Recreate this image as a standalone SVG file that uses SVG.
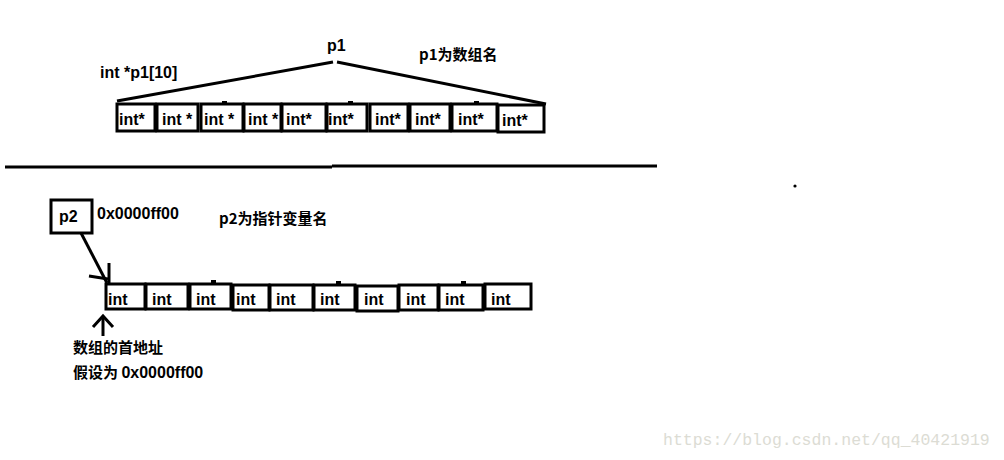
<svg xmlns="http://www.w3.org/2000/svg" width="1004" height="460" viewBox="0 0 1004 460">
<style>
.t{font-family:"Liberation Sans","Noto Sans CJK SC",sans-serif;font-weight:bold;font-size:16px;fill:#000}
.c{font-family:"Noto Sans CJK SC","Liberation Sans",sans-serif;font-weight:bold;font-size:15px;fill:#000}
.b{fill:#fff;stroke:#000;stroke-width:3}
.ln{fill:none;stroke:#000;stroke-width:3;stroke-linecap:butt}
.wm{font-family:"Liberation Mono",monospace;font-size:16.5px;fill:#dcdcd4}
</style>
<rect width="1004" height="460" fill="#fff"/>
<g id="labels-top">
<text class="t" x="327" y="51">p1</text>
<text class="t" x="100" y="78">int *p1[10]</text>
<text class="c" x="419" y="60">p1为数组名</text>
</g>
<g id="array-p1">
<rect class="b" x="117" y="104" width="38" height="27"/><text class="t" x="119" y="125">int*</text>
<rect class="b" x="157" y="104" width="41" height="27"/><text class="t" x="162" y="125">int *</text>
<rect class="b" x="201" y="104" width="42" height="27"/><text class="t" x="204" y="125">int *</text>
<rect class="b" x="244" y="104" width="37" height="27"/><text class="t" x="248" y="125">int *</text>
<rect class="b" x="282" y="104" width="44" height="27"/><text class="t" x="286" y="125">int*</text>
<rect class="b" x="327" y="104" width="40" height="27"/><text class="t" x="328" y="125">int*</text>
<rect class="b" x="370" y="104" width="38" height="27"/><text class="t" x="375" y="125">int*</text>
<rect class="b" x="410" y="104" width="40" height="27"/><text class="t" x="415" y="125">int*</text>
<rect class="b" x="452" y="104" width="45" height="27"/><text class="t" x="458" y="125">int*</text>
<rect class="b" x="498" y="105" width="46" height="27"/><text class="t" x="502" y="126">int*</text>
<rect x="222" y="101" width="5" height="4"/>
<rect x="348" y="101" width="5" height="4"/>
<rect x="474" y="101" width="5" height="4"/>
</g>
<g id="connectors">
<path class="ln" d="M333 62 L117 101"/>
<path class="ln" d="M337 62 L546 104"/>
<path class="ln" d="M5 167 L332 167"/>
<path class="ln" d="M332 166 L657 166"/>
<path class="ln" d="M80 231 L107 283"/>
<path class="ln" d="M109 263 L109 283"/>
<path class="ln" d="M89 276 L108 279"/>
<path class="ln" d="M103 316 L103 336"/>
<path class="ln" d="M93 327 L103 316 L113 327"/>
<circle cx="795" cy="186" r="1.6"/>
</g>
<g id="p2">
<rect class="b" x="51" y="200" width="41" height="33"/>
<text class="t" x="59" y="222">p2</text>
<text class="t" x="97" y="219">0x0000ff00</text>
<text class="c" x="219" y="224">p2为指针变量名</text>
</g>
<g id="array-p2">
<rect class="b" x="106" y="284" width="39" height="25"/><text class="t" x="108" y="305">int</text>
<rect class="b" x="146" y="284" width="42" height="25"/><text class="t" x="152" y="305">int</text>
<rect class="b" x="190" y="284" width="41" height="25"/><text class="t" x="196" y="305">int</text>
<rect class="b" x="233" y="285" width="36" height="25"/><text class="t" x="236" y="305">int</text>
<rect class="b" x="270" y="285" width="43" height="25"/><text class="t" x="276" y="305">int</text>
<rect class="b" x="314" y="285" width="41" height="25"/><text class="t" x="320" y="305">int</text>
<rect class="b" x="357" y="286" width="41" height="25"/><text class="t" x="364" y="305">int</text>
<rect class="b" x="399" y="285" width="39" height="25"/><text class="t" x="406" y="305">int</text>
<rect class="b" x="439" y="285" width="44" height="25"/><text class="t" x="445" y="305">int</text>
<rect class="b" x="485" y="284" width="46" height="25"/><text class="t" x="491" y="305">int</text>
<rect x="211" y="280" width="5" height="4"/>
<rect x="336" y="281" width="5" height="4"/>
<rect x="461" y="281" width="5" height="4"/>
</g>
<g id="notes">
<text class="c" x="73" y="353">数组的首地址</text>
<text class="c" x="73" y="378">假设为 <tspan class="t">0x0000ff00</tspan></text>
</g>
<text class="wm" x="663" y="445">https://blog.csdn.net/qq_40421919</text>
</svg>
